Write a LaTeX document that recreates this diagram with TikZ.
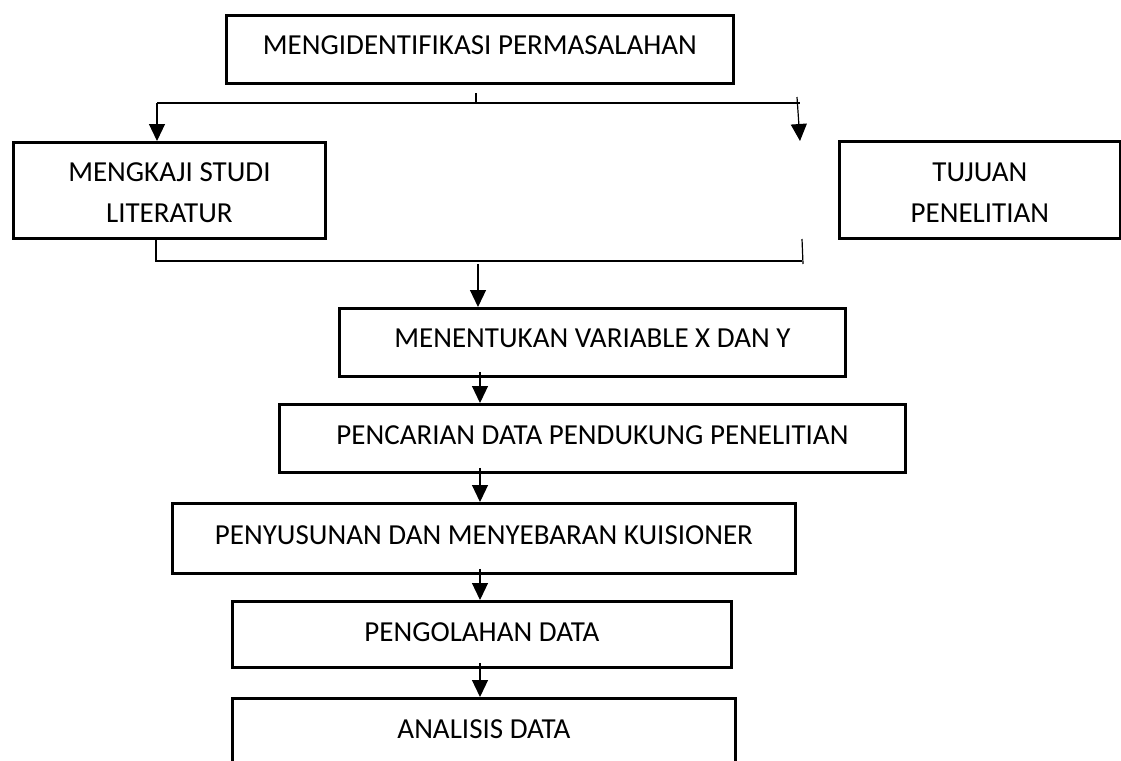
\documentclass[tikz,border=0pt]{standalone}
\usepackage{fontspec}
\setmainfont{Carlito}
\usetikzlibrary{arrows.meta}

\tikzset{
  stepbox/.style = {draw, line width = 2.8pt, inner sep = 0pt, anchor = north west, align = center, text height = 40pt, text depth = 28pt},
  link/.style = {line width = 1.2pt},
  arr/.style = {link, -{Triangle[width = 16pt, length = 17pt]}}
}

\begin{document}
\begin{tikzpicture}[x = 1pt, y = -1pt, font = \fontsize{29}{41}\selectfont]
    \useasboundingbox (0,0) rectangle (1121,760);
    \clip (0,0) rectangle (1121,760); % last box runs off the page.
    \node[stepbox, minimum width = 507pt, text height = 39pt, text depth = 29pt] (id) at (225,14) {MENGIDENTIFIKASI PERMASALAHAN};
    \node[stepbox, minimum width = 312pt, text height = 80pt, text depth = 16pt] (studi) at (12,141) {MENGKAJI STUDI\\LITERATUR};
    \node[stepbox, minimum width = 281pt, text height = 81pt, text depth = 16pt] (tujuan) at (838,140) {TUJUAN\\PENELITIAN};
    \node[stepbox, minimum width = 506pt, text height = 39pt, text depth = 29pt] (var) at (338,307) {MENENTUKAN VARIABLE X DAN Y};
    \node[stepbox, minimum width = 626pt] (cari) at (278,403) {PENCARIAN DATA PENDUKUNG PENELITIAN};
    \node[stepbox, minimum width = 623pt, text height = 41pt, text depth = 29pt] (susun) at (171,502) {PENYUSUNAN DAN MENYEBARAN KUISIONER};
    \node[stepbox, minimum width = 499pt, text depth = 26pt] (olah) at (231,600) {PENGOLAHAN DATA};
    \node[stepbox, minimum width = 503pt, text depth = 40pt] (anal) at (231,697) {ANALISIS DATA};
    % split under the first box
    \coordinate (tl) at (157,103);
    \coordinate (tr) at (800,103);
    \coordinate (tfree) at (800,141);
    \draw[link] (476,93) -- (476,103);
    \draw[link] (tl) -- (tr);
    \draw[arr] (tl) -- (tl |- studi.north);
    \draw[arr] (797,97) -- (tfree);
    % join above the variables
    \coordinate (bl) at (156,261);
    \coordinate (br) at (802,261);
    \coordinate (bj) at (478,264);
    \draw[link] (studi.south -| bl) -- (bl) -- (br);
    \draw[link] (802,239) -- (803,264);
    \draw[arr] (bj) -- (bj |- var.north);
    \foreach \a/\b in {var/cari, cari/susun, susun/olah, olah/anal} { \draw[arr] ([yshift = 6pt]\a.south -| 480,0) -- (\b.north -| 480,0); }
\end{tikzpicture}
\end{document}
